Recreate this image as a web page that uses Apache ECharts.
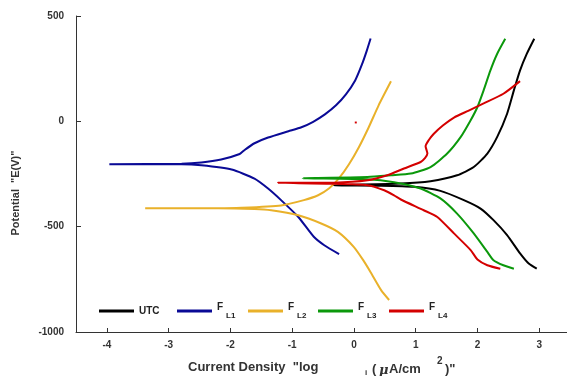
<!DOCTYPE html>
<html>
<head>
<meta charset="utf-8">
<script src="https://cdn.jsdelivr.net/npm/echarts@6/dist/echarts.min.js"></script>
<style>
  html, body { margin: 0; padding: 0; background: #fff; }
  #chart { width: 567px; height: 376px; }
</style>
</head>
<body>
<div id="chart"></div>
<script>
// 坐标轴刻度
const xTicks = [-4, -3, -2, -1, 0, 1, 2, 3]
const yTicks = [-1000, -500, 0, 500]

const seriesNames = ['UTC', 'F_L1', 'F_L2', 'F_L3', 'F_L4']
const seriesColors = ['#000000', '#0a0a96', '#e9b12a', '#0b980b', '#d40000']

// log i / E, cathodic end -> Ecorr -> anodic end
const utcLogI = [2.96, 2.83, 2.69, 2.48, 2.26, 2.05, 1.78, 1.40, 0.97, 0.44, -0.34,
  0.76, 1.24, 1.67, 1.94, 2.16, 2.32, 2.48, 2.59, 2.69, 2.80, 2.92]
const utcE = [-699, -675, -627, -540, -469, -414, -374, -330, -311, -306, -304,
  -295, -284, -256, -217, -153, -74, 36, 147, 242, 321, 392]

const fl1LogI = [-0.24, -0.48, -0.65, -0.90, -1.18, -1.39, -1.61, -1.98, -2.47, -2.79, -3.96,
  -2.79, -2.47, -2.15, -1.85, -1.77, -1.61, -1.39, -1.06, -0.85, -0.66, -0.47, -0.29, -0.13, 0.02, 0.13, 0.21, 0.27]
const fl1E = [-630, -588, -548, -454, -374, -319, -272, -229, -209, -204, -204,
  -201, -195, -181, -155, -136, -104, -77, -47, -28, -2, 33, 76, 128, 194, 270, 337, 393]

const fl2LogI = [0.57, 0.44, 0.27, 0.15, 0.00, -0.26, -0.53, -0.90, -1.34, -1.61, -2.20, -3.38,
  -2.20, -1.82, -1.18, -0.81, -0.58, -0.40, -0.24, -0.08, 0.08, 0.24, 0.40, 0.60]
const fl2E = [-848, -801, -716, -659, -597, -525, -485, -446, -422, -416, -412, -412,
  -412, -410, -399, -374, -351, -318, -270, -204, -123, -28, 76, 190]

const fl3LogI = [2.59, 2.42, 2.26, 2.16, 1.94, 1.67, 1.40, 1.08, 0.65, 0.22, -0.83,
  0.22, 0.60, 0.92, 1.24, 1.51, 1.73, 1.89, 2.00, 2.10, 2.21, 2.32, 2.45]
const fl3E = [-700, -683, -659, -620, -532, -438, -366, -319, -289, -275, -270,
  -264, -256, -248, -217, -153, -74, 5, 68, 147, 242, 321, 392]

const fl4LogI = [2.37, 2.16, 2.00, 1.89, 1.62, 1.35, 1.13, 0.76, 0.65, 0.49, 0.22, -0.32, -1.23,
  -0.32, 0.22, 0.54, 0.81, 1.08, 1.15, 1.19, 1.16, 1.21, 1.29, 1.44, 1.62, 1.85, 2.10, 2.42, 2.69]
const fl4E = [-700, -683, -656, -611, -532, -454, -422, -371, -351, -327, -303, -296, -292,
  -291, -280, -256, -224, -193, -175, -153, -118, -90, -60, -20, 18, 50, 85, 131, 191]

// stray red mark near the origin
const strayLogI = [0.03, 0.03]
const strayE = [-10, -1]

const curves = [
  [utcLogI, utcE],
  [fl1LogI, fl1E],
  [fl2LogI, fl2E],
  [fl3LogI, fl3E],
  [fl4LogI, fl4E]
]

const pairs = (xs, ys) => xs.map((x, i) => [x, ys[i]])

const chart = echarts.init(document.getElementById('chart'))

const boldFont = 'Liberation Sans'

const series = seriesNames.map((name, i) => ({
  name: name,
  type: 'line',
  symbol: 'none',
  smooth: 0.2,
  color: seriesColors[i],
  lineStyle: { width: 2, color: seriesColors[i] },
  data: pairs(curves[i][0], curves[i][1]),
  z: 2 + i
}))

series.push({
  name: 'F_L4',
  type: 'line',
  symbol: 'none',
  color: seriesColors[4],
  lineStyle: { width: 2, color: seriesColors[4] },
  data: pairs(strayLogI, strayE)
})

// one legend per item so the spacing follows the picture
const legendLefts = [99, 177, 248, 318, 389]
const legendTops = [306, 302, 302, 302, 302]
const legends = seriesNames.map((name, i) => ({
  left: legendLefts[i],
  top: legendTops[i],
  padding: 0,
  itemWidth: 35,
  itemHeight: 3,
  icon: 'rect',
  data: [name],
  formatter: (n) => {
    const parts = n.split('_')
    if (parts.length === 1) return '{u|' + n + '}'
    return '{f|' + parts[0] + '}{s|' + parts[1] + '}'
  },
  textStyle: {
    fontFamily: boldFont,
    fontWeight: 'bold',
    color: '#222',
    rich: {
      u: { fontSize: 10, fontWeight: 'bold', fontFamily: boldFont, color: '#222' },
      f: { fontSize: 10, fontWeight: 'bold', fontFamily: boldFont, color: '#222', padding: [0, 3, 8, 0] },
      s: { fontSize: 8, fontWeight: 'bold', fontFamily: boldFont, color: '#222', padding: [9, 0, 0, 0] }
    }
  }
}))

chart.setOption({
  animation: false,
  grid: { left: 76, right: 0, top: 16, bottom: 44 },
  xAxis: {
    type: 'value',
    min: -4.5,
    max: 3.45,
    splitLine: { show: false },
    axisLine: { onZero: false, lineStyle: { color: '#333', width: 1 } },
    axisTick: { inside: true, length: 4, customValues: xTicks, lineStyle: { color: '#333' } },
    axisLabel: {
      customValues: xTicks,
      margin: 8,
      fontFamily: boldFont,
      fontSize: 10,
      fontWeight: 'bold',
      color: '#333',
      formatter: (v) => String(v)
    }
  },
  yAxis: {
    type: 'value',
    min: -1000,
    max: 500,
    splitLine: { show: false },
    axisLine: { onZero: false, lineStyle: { color: '#333', width: 1 } },
    axisTick: { inside: true, length: 5, customValues: yTicks, lineStyle: { color: '#333' } },
    axisLabel: {
      customValues: yTicks,
      margin: 12,
      fontFamily: boldFont,
      fontSize: 10,
      fontWeight: 'bold',
      color: '#333',
      formatter: (v) => String(v)
    }
  },
  legend: legends,
  graphic: [
    {
      type: 'text',
      left: 188,
      top: 361,
      style: { text: 'Current Density  "log', font: 'bold 13px "Liberation Sans"', fill: '#333' }
    },
    {
      type: 'text',
      left: 365,
      top: 369,
      style: { text: 'i', font: 'bold 8px "Liberation Sans"', fill: '#333' }
    },
    {
      type: 'text',
      left: 372,
      top: 363,
      style: { text: '(', font: 'bold 13px "Liberation Sans"', fill: '#333' }
    },
    {
      type: 'text',
      left: 379,
      top: 364,
      style: { text: '\u03bc', font: 'italic bold 13px "DejaVu Serif"', fill: '#333' }
    },
    {
      type: 'text',
      left: 389,
      top: 363,
      style: { text: 'A/cm', font: 'bold 13px "Liberation Sans"', fill: '#333' }
    },
    {
      type: 'text',
      left: 437,
      top: 356,
      style: { text: '2', font: 'bold 10px "Liberation Sans"', fill: '#333' }
    },
    {
      type: 'text',
      left: 445,
      top: 363,
      style: { text: ')"', font: 'bold 13px "Liberation Sans"', fill: '#333' }
    },
    {
      type: 'text',
      x: 16,
      y: 193,
      rotation: Math.PI / 2,
      style: {
        text: 'Potential  "E(V)"',
        font: 'bold 11px "Liberation Sans"',
        fill: '#333',
        align: 'center',
        verticalAlign: 'middle'
      }
    }
  ],
  series: series
})

window.addEventListener('resize', () => chart.resize())
</script>
</body>
</html>
